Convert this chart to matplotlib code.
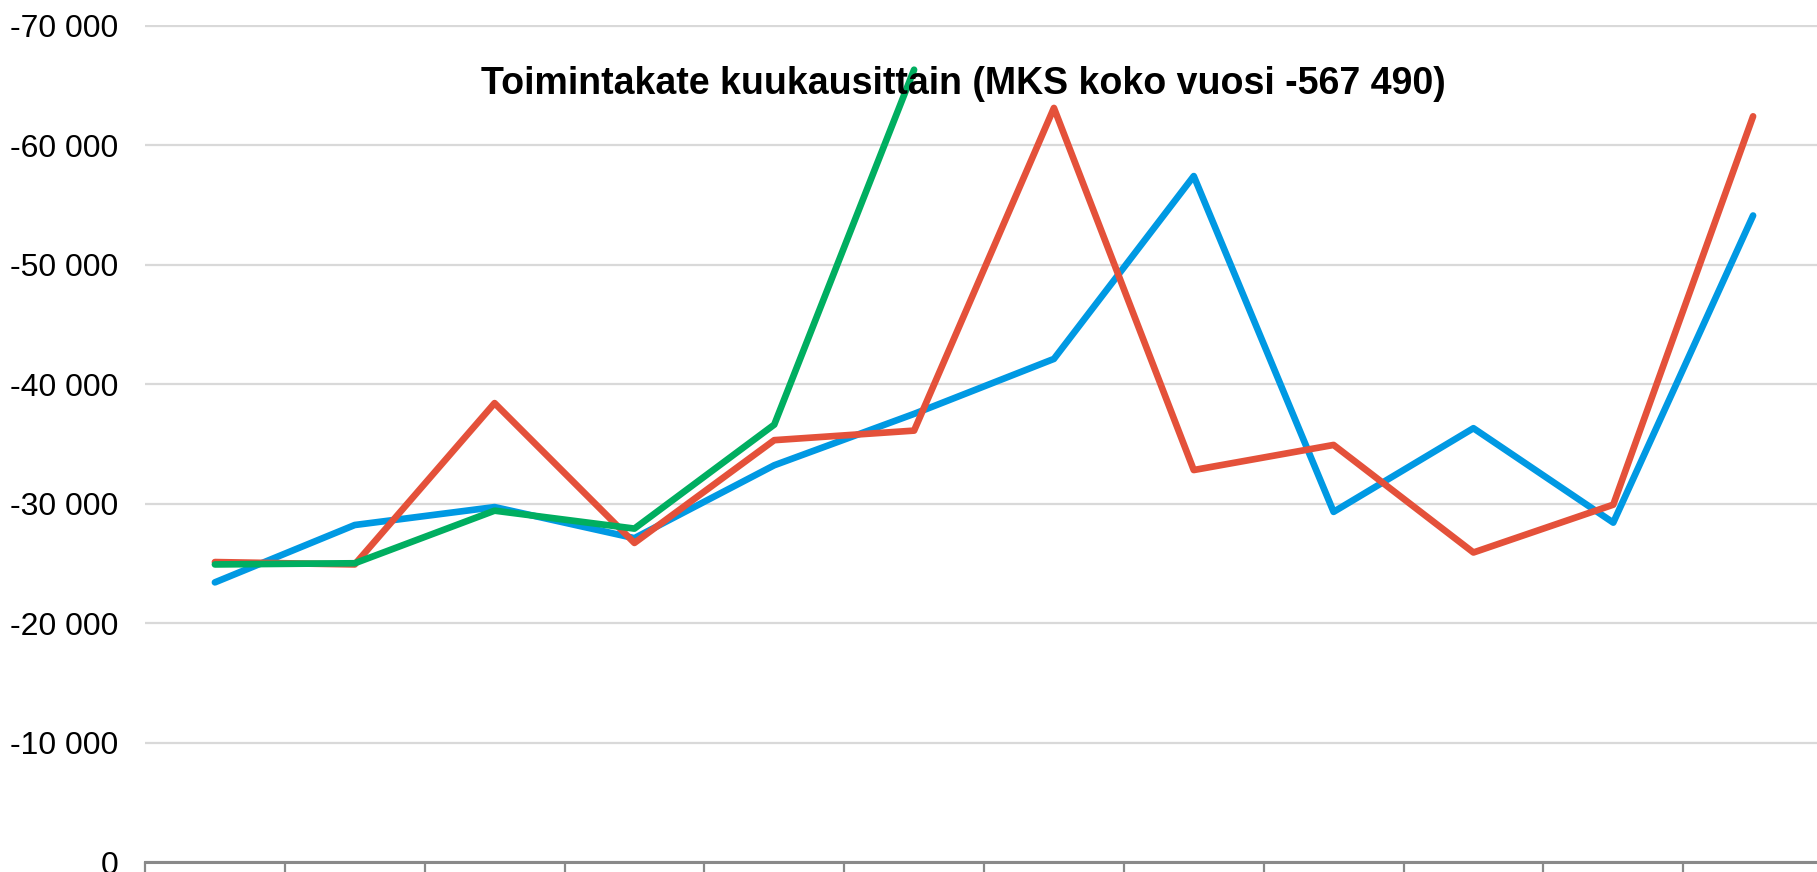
import numpy as np
import matplotlib
matplotlib.use("Agg")
import matplotlib.pyplot as plt
from matplotlib.ticker import FuncFormatter

plt.rcParams["font.family"] = ["Liberation Sans", "DejaVu Sans"]

# monthly operating margin (toimintakate), three series
months = ["1", "2", "3", "4", "5", "6", "7", "8", "9", "10", "11", "12"]
blue_vals = [-23400, -28200, -29700, -27100, -33200, -37500,
             -42100, -57400, -29300, -36300, -28400, -54100]
red_vals = [-25100, -24900, -38400, -26700, -35300, -36100,
            -63100, -32800, -34900, -25900, -29900, -62400]
green_vals = [-24900, -25000, -29400, -27900, -36600, -66300]

y_ticks = [0, -10000, -20000, -30000, -40000, -50000, -60000, -70000]
TITLE = "Toimintakate kuukausittain (MKS koko vuosi -567 490)"

W, H = 1817, 872
fig = plt.figure(figsize=(W / 100, H / 100), dpi=100)
ax = fig.add_axes([145 / W, 10 / H, (1823 - 145) / W, (862 - 25.5) / H])

x = np.arange(len(months))
LW = 4.8
ax.plot(x, blue_vals, color="#0099E3", lw=LW, solid_capstyle="round", zorder=3)
ax.plot(x, red_vals, color="#E4513A", lw=LW, solid_capstyle="round", zorder=4)
ax.plot(x[:len(green_vals)], green_vals, color="#00AE60", lw=LW,
        solid_capstyle="round", zorder=5)

ax.set_xlim(-0.5, len(months) - 0.5)
ax.set_ylim(0, -70000)

ax.set_yticks(y_ticks)
ax.yaxis.set_major_formatter(FuncFormatter(lambda v, p: f"{int(v):,}".replace(",", " ")))
ax.tick_params(axis="y", length=0, pad=19, labelsize=23)
ax.grid(axis="y", color="#D9D9D9", lw=1.6, zorder=0)

ax.set_xticks(np.arange(-0.5, len(months), 1.0))
ax.set_xticklabels([])
ax.tick_params(axis="x", direction="out", length=8, width=1.6, color="#898989")

for s in ["top", "right", "left"]:
    ax.spines[s].set_visible(False)
ax.spines["bottom"].set_color("#898989")
ax.spines["bottom"].set_linewidth(2.2)
ax.spines["bottom"].set_zorder(6)

fig.text(963 / W, 1 - 84 / H, TITLE, ha="center", va="center",
         fontsize=27, fontweight="bold", zorder=10)

fig.savefig("out.png", dpi=100)
